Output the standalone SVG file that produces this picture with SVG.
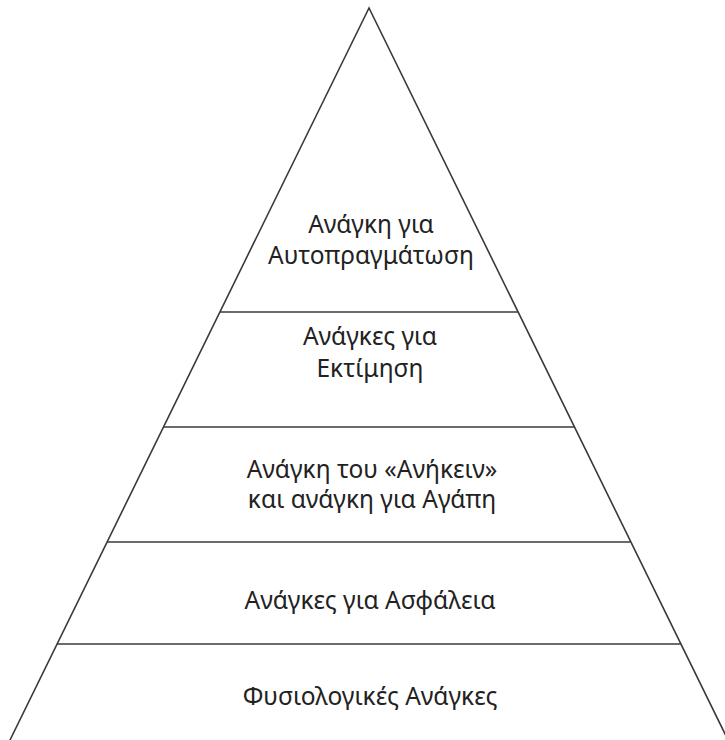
<svg xmlns="http://www.w3.org/2000/svg" width="725" height="740" viewBox="0 0 725 740">
<style>
.edge{fill:none;stroke:#3a3a3a;stroke-width:1.6;stroke-linejoin:miter}
.div{stroke:#3a3a3a;stroke-width:1.6}
.t{font-family:"Noto Sans","DejaVu Sans",sans-serif;font-size:24.5px;fill:#222;text-anchor:middle}
</style>
<rect width="725" height="740" fill="#fff"/>
<g id="connectors">
<polyline class="edge" points="10,740 369,8 728,740"/>
<line class="div" x1="220" y1="312" x2="518" y2="312"/>
<line class="div" x1="163" y1="427" x2="574" y2="427"/>
<line class="div" x1="107" y1="542" x2="630" y2="542"/>
<line class="div" x1="57" y1="644" x2="681" y2="644"/>
</g>
<g id="level5">
<text class="t" x="371" y="233">Ανάγκη για</text>
<text class="t" x="371" y="264">Αυτοπραγμάτωση</text>
</g>
<g id="level4">
<text class="t" x="370" y="345">Ανάγκες για</text>
<text class="t" x="370" y="377">Εκτίμηση</text>
</g>
<g id="level3">
<text class="t" x="372" y="478">Ανάγκη του «Ανήκειν»</text>
<text class="t" x="372" y="508">και ανάγκη για Αγάπη</text>
</g>
<g id="level2">
<text class="t" x="370" y="609">Ανάγκες για Ασφάλεια</text>
</g>
<g id="level1">
<text class="t" x="370" y="705">Φυσιολογικές Ανάγκες</text>
</g>
</svg>
